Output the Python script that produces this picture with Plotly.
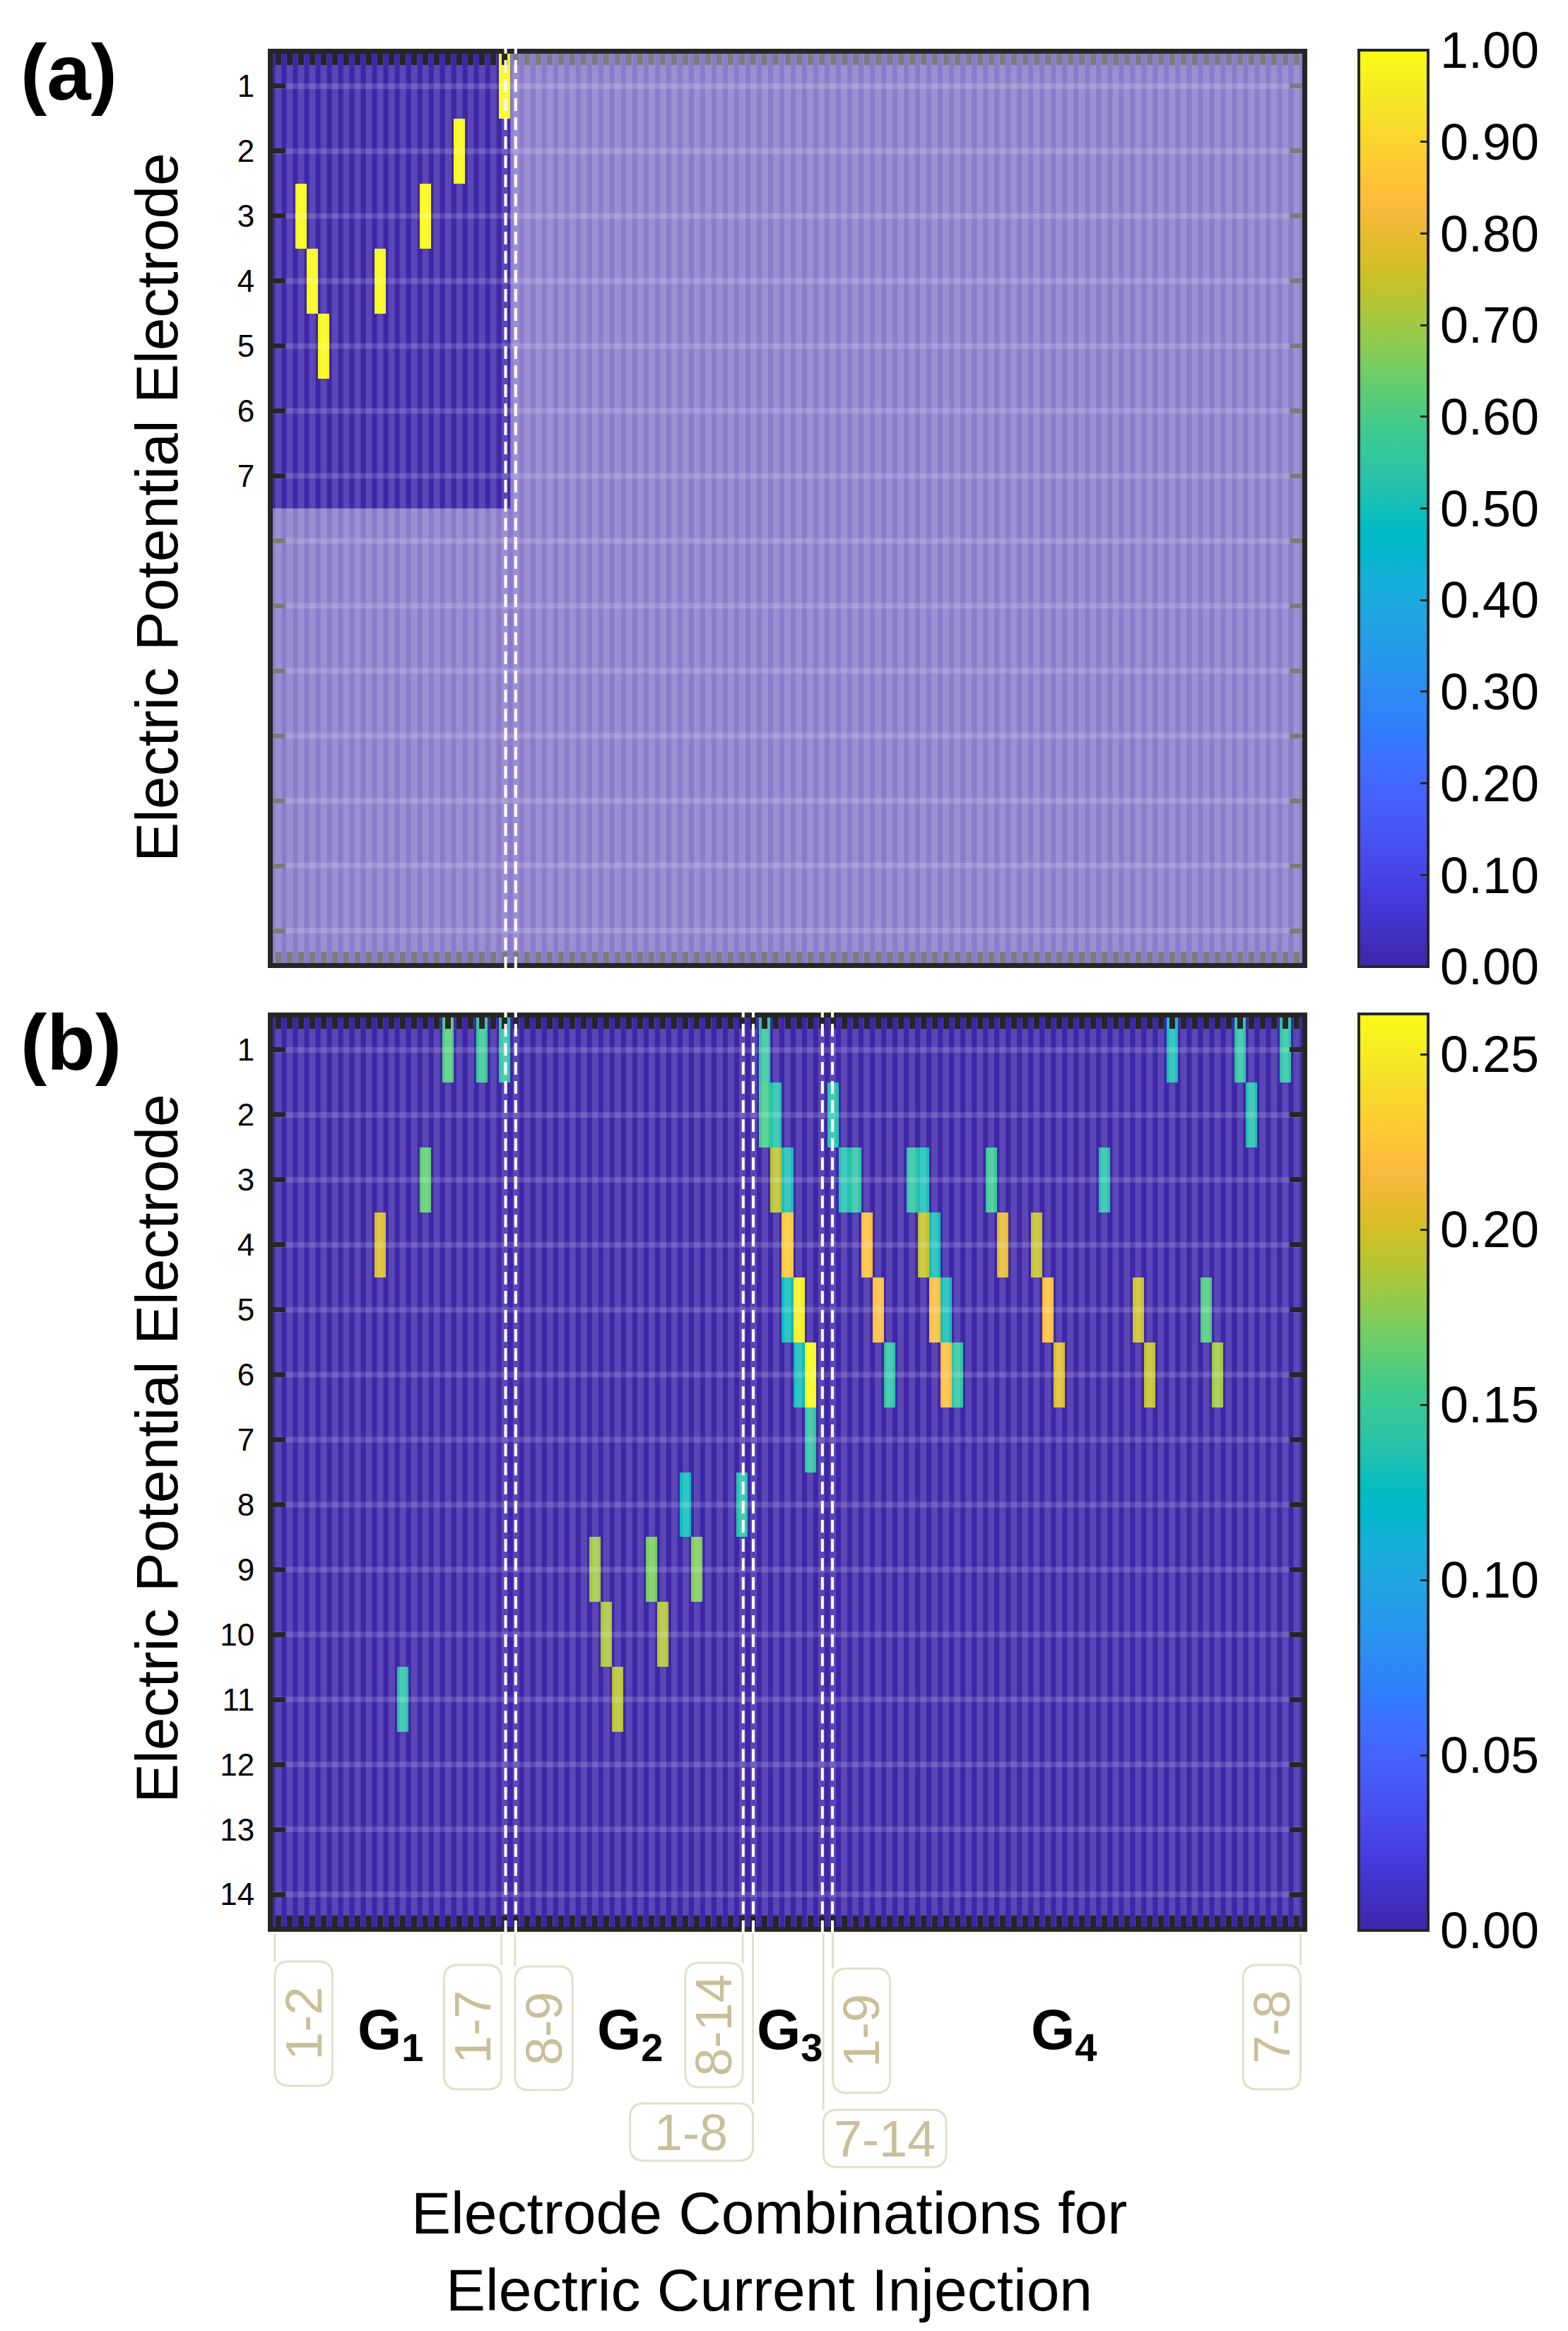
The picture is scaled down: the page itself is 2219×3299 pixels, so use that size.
import numpy as np
import plotly.graph_objects as go

W, H = 2219, 3299

# MATLAB parula, 64 levels
PARULA = [
    (0.2422, 0.1504, 0.6603), (0.2504, 0.1650, 0.7076), (0.2578, 0.1818, 0.7511), (0.2647, 0.1978, 0.7952),
    (0.2706, 0.2147, 0.8364), (0.2751, 0.2342, 0.8710), (0.2783, 0.2559, 0.8991), (0.2803, 0.2782, 0.9221),
    (0.2813, 0.3006, 0.9414), (0.2810, 0.3228, 0.9579), (0.2795, 0.3447, 0.9717), (0.2760, 0.3667, 0.9829),
    (0.2699, 0.3892, 0.9906), (0.2602, 0.4123, 0.9952), (0.2440, 0.4358, 0.9988), (0.2206, 0.4603, 0.9973),
    (0.1963, 0.4847, 0.9892), (0.1834, 0.5074, 0.9798), (0.1786, 0.5289, 0.9682), (0.1764, 0.5499, 0.9520),
    (0.1687, 0.5703, 0.9359), (0.1540, 0.5902, 0.9218), (0.1460, 0.6091, 0.9079), (0.1380, 0.6276, 0.8973),
    (0.1248, 0.6459, 0.8883), (0.1113, 0.6635, 0.8763), (0.0952, 0.6798, 0.8598), (0.0689, 0.6948, 0.8394),
    (0.0297, 0.7082, 0.8163), (0.0036, 0.7203, 0.7917), (0.0067, 0.7312, 0.7660), (0.0433, 0.7411, 0.7394),
    (0.0964, 0.7500, 0.7120), (0.1408, 0.7584, 0.6842), (0.1717, 0.7670, 0.6554), (0.1938, 0.7758, 0.6251),
    (0.2161, 0.7843, 0.5923), (0.2470, 0.7918, 0.5567), (0.2906, 0.7973, 0.5188), (0.3406, 0.8008, 0.4789),
    (0.3909, 0.8029, 0.4354), (0.4456, 0.8024, 0.3909), (0.5044, 0.7993, 0.3480), (0.5616, 0.7942, 0.3045),
    (0.6174, 0.7876, 0.2612), (0.6720, 0.7793, 0.2227), (0.7242, 0.7698, 0.1910), (0.7738, 0.7598, 0.1646),
    (0.8203, 0.7498, 0.1535), (0.8634, 0.7406, 0.1596), (0.9035, 0.7330, 0.1774), (0.9393, 0.7288, 0.2100),
    (0.9728, 0.7298, 0.2394), (0.9956, 0.7434, 0.2371), (0.9970, 0.7659, 0.2199), (0.9952, 0.7893, 0.2028),
    (0.9892, 0.8136, 0.1885), (0.9786, 0.8386, 0.1766), (0.9676, 0.8639, 0.1643), (0.9610, 0.8890, 0.1537),
    (0.9597, 0.9135, 0.1423), (0.9628, 0.9373, 0.1265), (0.9691, 0.9606, 0.1064), (0.9769, 0.9839, 0.0805),
]
parula = [[i / 63, "rgb(%d,%d,%d)" % tuple(round(c * 255) for c in rgb)] for i, rgb in enumerate(PARULA)]

n_electrodes = 14
group_sizes = [21, 21, 7, 42]          # G1, G2, G3, G4
n_cols = sum(group_sizes)               # 91 electrode combinations

# (a) potential electrodes 1-7, combinations in G1
a_cols = [3, 4, 5, 10, 14, 17, 21]
a_rows = [3, 4, 5, 4, 3, 2, 1]
a_vals = [1, 1, 1, 1, 1, 1, 1]

# (b) all 14 electrodes, all 91 combinations
b_cols = [10, 12, 14, 16, 19, 21,
          29, 30, 31, 34, 35, 37, 38, 42,
          44, 44, 45, 45, 46, 46, 46, 47, 47, 48, 48,
          50, 51, 52, 53, 54, 55, 57, 58, 58, 59, 59, 60, 60, 61,
          64, 65, 68, 69, 70, 74, 77, 78, 80, 83, 84, 86, 87, 90]
b_rows = [4, 11, 3, 1, 1, 1,
          9, 10, 11, 9, 10, 8, 9, 8,
          1, 2, 2, 3, 3, 4, 5, 5, 6, 6, 7,
          2, 3, 3, 4, 5, 6, 3, 3, 4, 4, 5, 5, 6, 6,
          3, 4, 4, 5, 6, 3, 5, 6, 1, 5, 6, 1, 2, 1]
b_vals = [0.203, 0.140, 0.164, 0.160, 0.149, 0.145,
          0.183, 0.186, 0.191, 0.172, 0.189, 0.129, 0.174, 0.138,
          0.145, 0.155, 0.137, 0.191, 0.133, 0.228, 0.129, 0.253, 0.129, 0.2615, 0.143,
          0.138, 0.135, 0.142, 0.222, 0.220, 0.142, 0.143, 0.133, 0.195, 0.131, 0.220, 0.131, 0.220, 0.143,
          0.150, 0.208, 0.195, 0.222, 0.205, 0.138, 0.198, 0.195, 0.132, 0.160, 0.183, 0.142, 0.136, 0.142]

a_ticktext = ["1", "2", "3", "4", "5", "6", "7"]
b_ticktext = [str(i) for i in range(1, 15)]

group_labels = ["1", "2", "3", "4"]
group_label_cols = [10.9, 32.1, 46.2, 70.4]

# combination call-outs: text, box columns, box top/bottom (px), leader column, vertical
callouts = [
    ("1-2", 0.69, 5.77, 2776, 2952, 0.69, True),
    ("1-7", 15.63, 20.71, 2781, 2957, 20.71, True),
    ("8-9", 21.91, 26.99, 2783, 2958, 21.91, True),
    ("8-14", 36.96, 42.04, 2778, 2954, 42.04, True),
    ("1-8", 32.07, 42.94, 2977, 3058, 42.94, False),
    ("1-9", 49.99, 55.07, 2786, 2962, 49.99, True),
    ("7-14", 49.16, 60.03, 2986, 3067, 49.16, False),
    ("7-8", 86.26, 91.34, 2781, 2957, 91.34, True),
]


def build_matrix(cols, rows, vals):
    z = np.zeros((n_electrodes, n_cols))
    for c, r, v in zip(cols, rows, vals):
        z[r - 1, c - 1] = v
    return z


za = build_matrix(a_cols, a_rows, a_vals)
zb = build_matrix(b_cols, b_rows, b_vals)
x = np.arange(1, n_cols + 1)
y = np.arange(1, n_electrodes + 1)

# layout geometry (pixels of the 2219x3299 page)
X0, X1 = 386 / W, 1843 / W
A_TOP, A_BOT = 76, 1363
B_TOP, B_BOT = 1440, 2727
FRAME = "#262626"
FONT = "Liberation Sans, Arial, sans-serif"


def py(px):
    return 1 - px / H


def cx(c):
    return X0 + (c - 0.5) / n_cols * (X1 - X0)


fig = go.Figure()

cb_common = dict(thickness=98, thicknessmode="pixels", lenmode="fraction", xanchor="left",
                 x=1923 / W, xpad=0, ypad=0, yanchor="middle", outlinecolor=FRAME, outlinewidth=4,
                 ticks="inside", ticklen=13, tickwidth=3, tickcolor=FRAME, tickformat=".2f",
                 tickfont=dict(family=FONT, size=72, color="black"))

fig.add_trace(go.Heatmap(
    z=za, x=x, y=y, xaxis="x", yaxis="y", zmin=0, zmax=1, colorscale=parula,
    colorbar=dict(cb_common, len=(A_BOT - A_TOP + 10) / H, y=py((A_TOP + A_BOT) / 2),
                  tickvals=[i / 10 for i in range(11)]),
    hoverinfo="skip"))
fig.add_trace(go.Heatmap(
    z=zb, x=x, y=y, xaxis="x2", yaxis="y2", zmin=0, zmax=0.2615, colorscale=parula,
    colorbar=dict(cb_common, len=(B_BOT - B_TOP + 10) / H, y=py((B_TOP + B_BOT) / 2),
                  tickvals=[0, 0.05, 0.10, 0.15, 0.20, 0.25]),
    hoverinfo="skip"))

# translucent grid over the cells, one line per column and row
grid = "rgba(255,255,255,0.15)"
for xa, ya in (("x", "y"), ("x2", "y2")):
    gx, gy = [], []
    for c in x:
        gx += [c, c, None]
        gy += [0.5, n_electrodes + 0.5, None]
    fig.add_trace(go.Scatter(x=gx, y=gy, xaxis=xa, yaxis=ya, mode="lines",
                             line=dict(color=grid, width=9), hoverinfo="skip", showlegend=False))
    hx, hy = [], []
    for r in y:
        hx += [0.5, n_cols + 0.5, None]
        hy += [r, r, None]
    fig.add_trace(go.Scatter(x=hx, y=hy, xaxis=xa, yaxis=ya, mode="lines",
                             line=dict(color=grid, width=8), hoverinfo="skip", showlegend=False))

xax = dict(range=[0.5, n_cols + 0.5], domain=[X0, X1], showgrid=False, zeroline=False,
           showline=True, linecolor=FRAME, linewidth=7, mirror="allticks",
           ticks="inside", tickvals=list(x), ticklen=16, tickwidth=8, tickcolor=FRAME,
           showticklabels=False)
yax = dict(range=[n_electrodes + 0.5, 0.5], showgrid=False, zeroline=False,
           showline=True, linecolor=FRAME, linewidth=7, mirror="allticks",
           ticks="inside", tickvals=list(y), ticklen=18, tickwidth=7, tickcolor=FRAME,
           ticklabelstandoff=10, tickfont=dict(family=FONT, size=44, color="black"))

fig.update_layout(
    width=W, height=H, margin=dict(l=0, r=0, t=0, b=0),
    paper_bgcolor="white", plot_bgcolor="white", showlegend=False,
    xaxis=dict(xax, anchor="y"),
    yaxis=dict(yax, anchor="x", domain=[py(A_BOT), py(A_TOP)],
               ticktext=a_ticktext + [""] * (n_electrodes - len(a_ticktext))),
    xaxis2=dict(xax, anchor="y2"),
    yaxis2=dict(yax, anchor="x2", domain=[py(B_BOT), py(B_TOP)], ticktext=b_ticktext),
)

shapes = []
# (a): fade everything outside potential electrodes 1-7 / group G1
fade = "rgba(255,255,255,0.4)"
g1_end = group_sizes[0] + 0.5
shapes.append(dict(type="rect", xref="x", yref="y", x0=g1_end, x1=n_cols + 0.5, y0=0.5,
                   y1=n_electrodes + 0.5, fillcolor=fade, line=dict(width=0), layer="above"))
shapes.append(dict(type="rect", xref="x", yref="y", x0=0.5, x1=g1_end, y0=len(a_ticktext) + 0.5,
                   y1=n_electrodes + 0.5, fillcolor=fade, line=dict(width=0), layer="above"))

# dashed group separators
bounds = np.cumsum(group_sizes)[:-1]
for top, bot, groups in ((A_TOP, A_BOT, bounds[:1]), (B_TOP, B_BOT, bounds)):
    for b in groups:
        for c in (b + 0.08, b + 0.97):
            shapes.append(dict(type="line", xref="paper", yref="paper", x0=cx(c), x1=cx(c),
                               y0=py(bot + 9), y1=py(top - 9),
                               line=dict(color="white", width=4, dash="18px,9px"), layer="above"))

# call-out boxes below (b)
box_line = "#e2dfcc"
box_text = "#c9bf99"
annotations = []
rx, ry = 20 / W, 20 / H
for text, c0, c1, top, bot, lead, vertical in callouts:
    x0, x1, y0, y1 = cx(c0), cx(c1), py(bot), py(top)
    path = (f"M {x0 + rx},{y1} L {x1 - rx},{y1} Q {x1},{y1} {x1},{y1 - ry} L {x1},{y0 + ry} "
            f"Q {x1},{y0} {x1 - rx},{y0} L {x0 + rx},{y0} Q {x0},{y0} {x0},{y0 + ry} "
            f"L {x0},{y1 - ry} Q {x0},{y1} {x0 + rx},{y1} Z")
    shapes.append(dict(type="path", xref="paper", yref="paper", path=path,
                       line=dict(color=box_line, width=3), fillcolor="rgba(0,0,0,0)"))
    shapes.append(dict(type="line", xref="paper", yref="paper", x0=cx(lead), x1=cx(lead),
                       y0=py(top), y1=py(B_BOT + 10), line=dict(color=box_line, width=3)))
    annotations.append(dict(xref="paper", yref="paper", x=(x0 + x1) / 2, y=(y0 + y1) / 2,
                            text=text, showarrow=False, textangle=-90 if vertical else 0,
                            font=dict(family=FONT, size=72, color=box_text),
                            xanchor="center", yanchor="middle"))

for lab, c in zip(group_labels, group_label_cols):
    annotations.append(dict(xref="paper", yref="paper", x=cx(c), y=py(2878),
                            text=f"<b>G<sub>{lab}</sub></b>", showarrow=False,
                            font=dict(family=FONT, size=80, color="black"),
                            xanchor="center", yanchor="middle"))

annotations += [
    dict(xref="paper", yref="paper", x=97 / W, y=py(102), text="<b>(a)</b>", showarrow=False,
         font=dict(family=FONT, size=112, color="black"), xanchor="center", yanchor="middle"),
    dict(xref="paper", yref="paper", x=101 / W, y=py(1475), text="<b>(b)</b>", showarrow=False,
         font=dict(family=FONT, size=112, color="black"), xanchor="center", yanchor="middle"),
    dict(xref="paper", yref="paper", x=222 / W, y=py(718), text="Electric Potential Electrode",
         textangle=-90, showarrow=False, font=dict(family=FONT, size=84, color="black"),
         xanchor="center", yanchor="middle"),
    dict(xref="paper", yref="paper", x=222 / W, y=py(2050), text="Electric Potential Electrode",
         textangle=-90, showarrow=False, font=dict(family=FONT, size=84, color="black"),
         xanchor="center", yanchor="middle"),
    dict(xref="paper", yref="paper", x=1088 / W, y=py(3186),
         text="Electrode Combinations for<br>Electric Current Injection", showarrow=False,
         font=dict(family=FONT, size=84, color="black"), xanchor="center", yanchor="middle"),
]

fig.update_layout(shapes=shapes, annotations=annotations)

fig.write_html("out.html", config={"displayModeBar": False},
               post_script="document.body.style.margin='0';")
